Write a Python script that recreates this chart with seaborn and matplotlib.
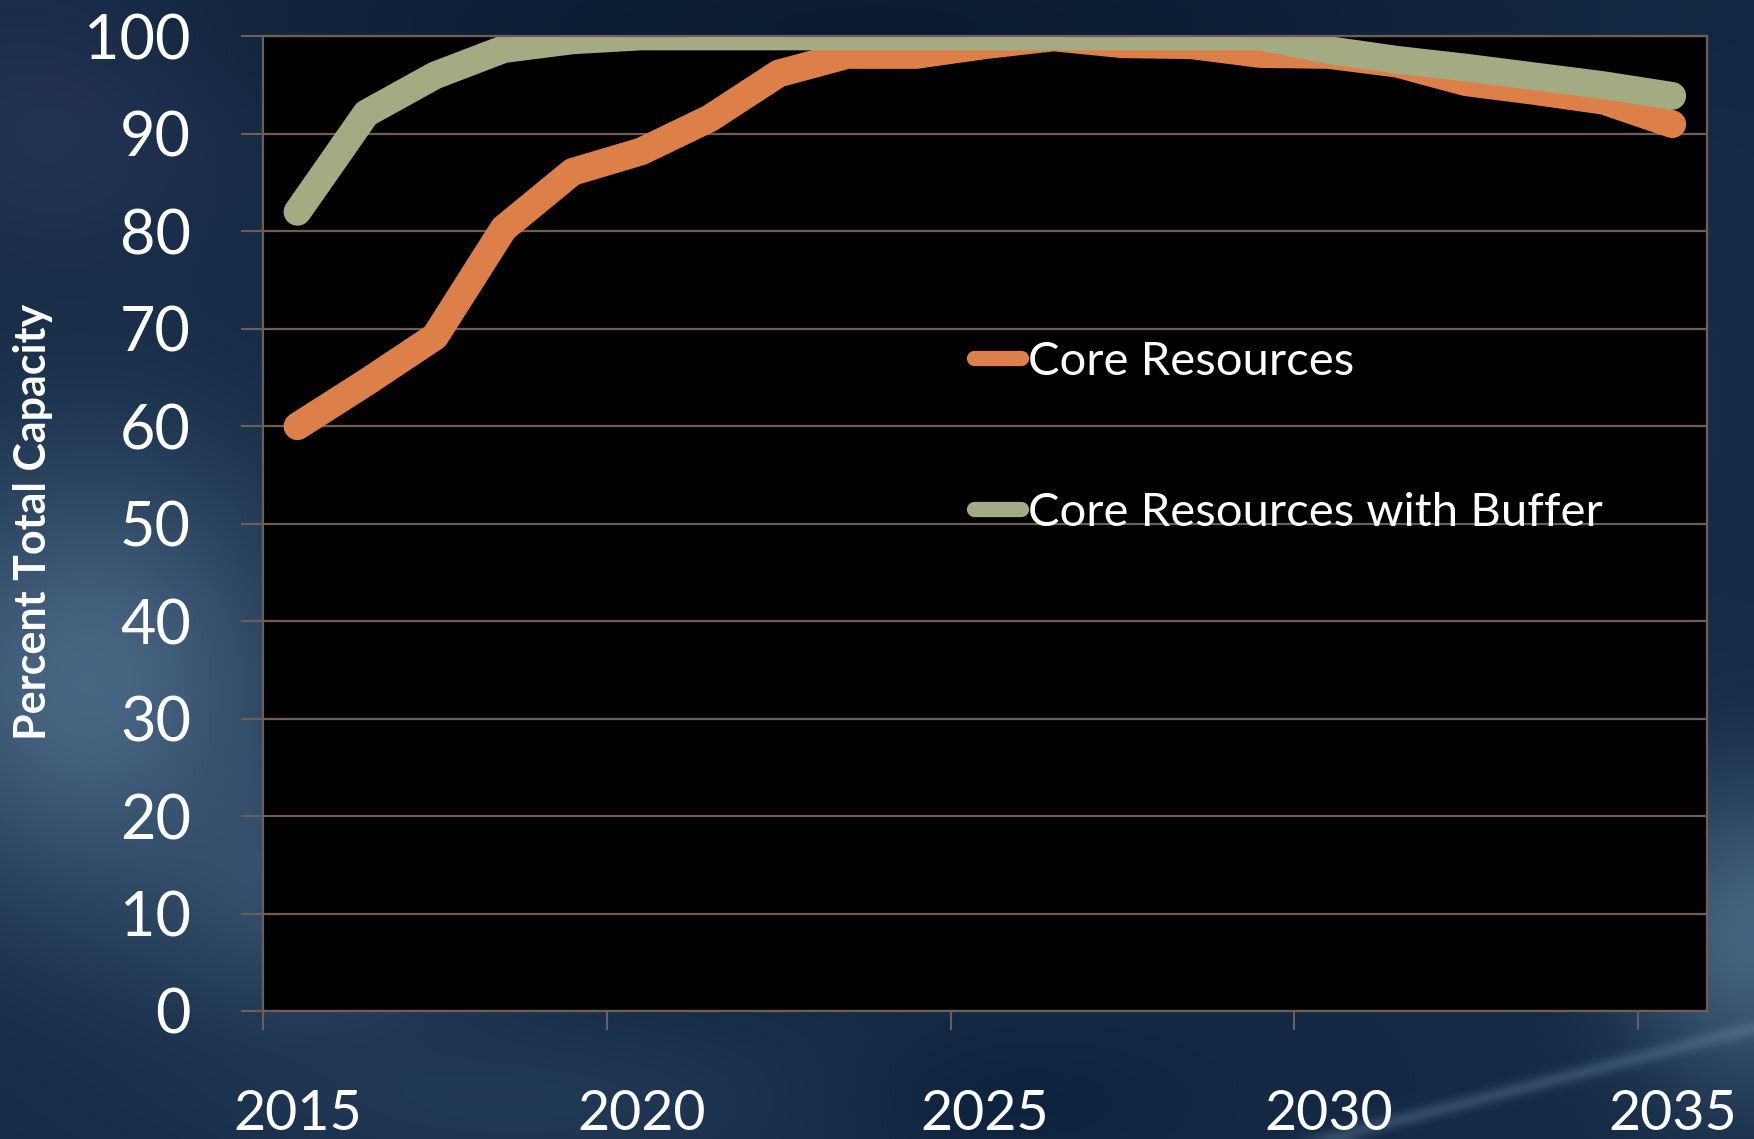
import numpy as np
import pandas as pd
import matplotlib.pyplot as plt
import seaborn as sns

# values (percent of total capacity)
years = list(range(2015, 2036))
core = [60.0, 64.5, 69.2, 80.3, 86.1, 88.2, 91.6, 96.2, 98.1, 98.1, 99.1,
        99.9, 99.2, 99.1, 98.2, 98.1, 97.2, 95.3, 94.4, 93.4, 91.0]
core_buffer = [82.0, 92.1, 96.0, 98.7, 99.6, 100, 100, 100, 100, 100, 100,
               100, 100, 100, 100, 98.6, 97.6, 96.8, 95.9, 95.0, 93.9]
series_names = ["Core Resources", "Core Resources with Buffer"]
series_colors = ["#dd7f48", "#a3ab82"]
year_labels = [2015, 2020, 2025, 2030, 2035]

df = pd.DataFrame({
    "year": years * 2,
    "value": core + core_buffer,
    "series": [series_names[0]] * len(years) + [series_names[1]] * len(years),
})

sns.set_style("white")
plt.rcParams["font.family"] = ["Lato", "DejaVu Sans"]

grid_c = "#6e5e56"

fig = plt.figure(figsize=(17.54, 11.39), dpi=100)

# slide-like dark blue background
h, w = 228, 350
yy, xx = np.mgrid[0:1:h * 1j, 0:1:w * 1j]
img = np.zeros((h, w, 3))
img[:] = np.array([20, 42, 68]) / 255


def blob(cx, cy, sx, sy, col, amt):
    g = np.exp(-(((xx - cx) / sx) ** 2 + ((yy - cy) / sy) ** 2))[..., None]
    return g * amt * (np.array(col) / 255 - img)


img += blob(0.03, 0.10, 0.10, 0.12, (38, 54, 86), 0.9)
img += blob(0.05, 0.60, 0.12, 0.20, (78, 108, 138), 0.9)
img += blob(0.18, 0.78, 0.10, 0.12, (70, 100, 130), 0.6)
img += blob(0.30, 0.97, 0.20, 0.08, (40, 66, 96), 0.6)
img += blob(0.50, 0.02, 0.35, 0.10, (8, 24, 44), 0.8)
img += blob(0.58, 0.97, 0.10, 0.06, (10, 30, 55), 0.6)
img += blob(1.00, 0.82, 0.07, 0.14, (75, 105, 135), 0.9)
img += blob(0.95, 0.35, 0.08, 0.25, (22, 46, 76), 0.6)
# faint streak bottom right
d = np.abs((yy - 0.905) + (xx - 1.0) * 0.40) / 0.006
img += (np.exp(-d ** 2) * ((xx > 0.72)))[..., None] * 0.35 * (np.array([120, 150, 180]) / 255 - img)
img = np.clip(img, 0, 1)

bg = fig.add_axes([0, 0, 1, 1], zorder=-10)
bg.imshow(img, aspect="auto", extent=[0, 1, 0, 1], interpolation="bicubic")
bg.axis("off")

ax = fig.add_axes([0.150, 0.1124, 0.823, 0.8556])
ax.set_facecolor("black")

sns.lineplot(data=df, x="year", y="value", hue="series", hue_order=series_names,
             palette=series_colors, linewidth=20, ax=ax)
for ln in ax.lines:
    ln.set_solid_capstyle("round")
    ln.set_solid_joinstyle("round")

ax.set_xlim(2014.5, 2035.5)
ax.set_ylim(0, 100)
ax.set_yticks(range(0, 101, 10))
ax.yaxis.grid(True, color=grid_c, linewidth=1.6)
ax.xaxis.grid(False)

ax.set_xticks(np.arange(2014.5, 2035, 5))
ax.set_xticklabels([])
ax.set_xticks(year_labels, minor=True)
ax.set_xticklabels([str(y) for y in year_labels], minor=True)
ax.tick_params(axis="x", which="major", length=14, width=1.5, color=grid_c,
               direction="out", bottom=True)
ax.tick_params(axis="x", which="minor", length=0, pad=56, labelsize=40,
               labelcolor="white", bottom=True)
ax.tick_params(axis="y", length=16, width=1.5, color=grid_c, pad=36,
               labelsize=44, labelcolor="white", left=True)

for s in ax.spines.values():
    s.set_color(grid_c)
    s.set_linewidth(1.6)
    s.set_visible(True)

ax.set_xlabel("")
ax.set_ylabel("")
fig.text(0.019, 0.542, "Percent Total Capacity", rotation=90, color="white",
         fontsize=31, fontweight="bold", ha="center", va="center")

handles, labels = ax.get_legend_handles_labels()
leg = ax.legend(handles, labels, loc="upper left", bbox_to_anchor=(0.531, 0.738),
                bbox_transform=fig.transFigure, frameon=False, fontsize=34,
                handlelength=1.0, handletextpad=0.15, labelspacing=2.3,
                labelcolor="white")
for ln in leg.get_lines():
    ln.set_linewidth(11)
    ln.set_solid_capstyle("round")

fig.savefig("out.png", dpi=100)
